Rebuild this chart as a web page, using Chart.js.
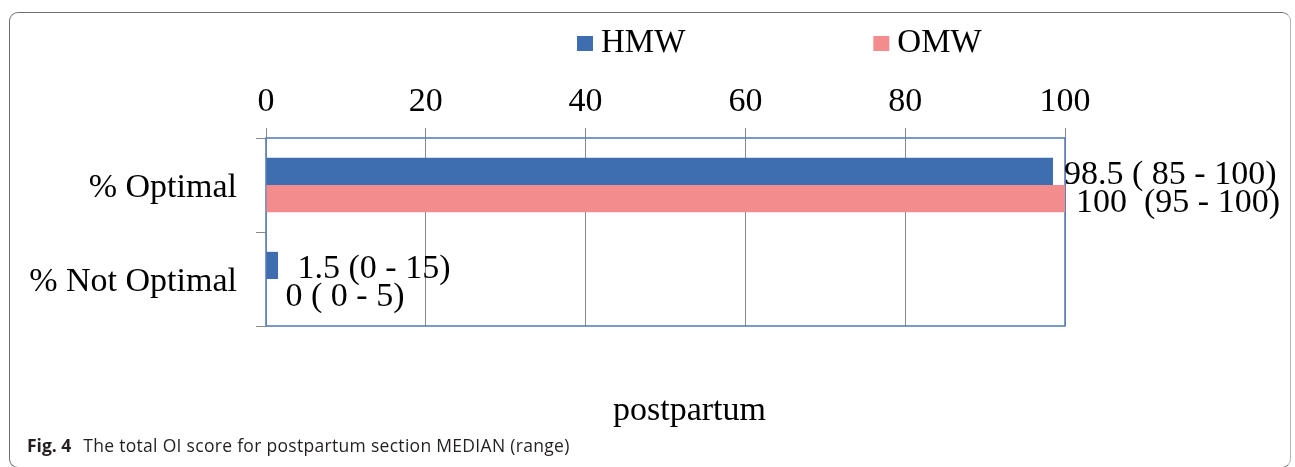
<!DOCTYPE html>
<html>
<head>
<meta charset="utf-8">
<script src="https://cdn.jsdelivr.net/npm/chart.js@4.4.0/dist/chart.umd.min.js"></script>
<style>
  html, body { margin: 0; padding: 0; background: #fff; overflow: hidden; }
  #frame {
    position: absolute; left: 9px; top: 12px; width: 1282px; height: 456px;
    border: 1.5px solid #6f6f6f; border-right-color: #b5b5b5; border-radius: 9px; box-sizing: border-box;
  }
  #wrap { position: absolute; left: 0; top: 0; width: 1295px; height: 467px; }
  #caption {
    position: absolute; left: 27px; top: 434px;
    font-family: "Open Sans", "Noto Sans", sans-serif; font-size: 17.5px; letter-spacing: 0.3px;
    line-height: 22px; color: #231f20; white-space: nowrap;
  }
  #caption b { font-weight: 700; margin-right: 7px; letter-spacing: 0; }
</style>
</head>
<body>
<div id="frame"></div>
<div id="wrap"><canvas id="c" width="1295" height="467"></canvas></div>
<div id="caption"><b>Fig. 4</b> The total OI score for postpartum section MEDIAN (range)</div>
<script>
// Categories, series and the median (range) text shown next to each bar
const categories = ['% Optimal', '% Not Optimal'];
const seriesNames = ['HMW', 'OMW'];
const hmwValues = [98.5, 1.5];
const omwValues = [100, 0];
const hmwLabels = ['98.5 ( 85 - 100)', ' 1.5 (0 - 15)'];
const omwLabels = ['100  (95 - 100)', ' 0 ( 0 - 5)'];
const xTicks = [0, 20, 40, 60, 80, 100];
const axisTitle = 'postpartum';

const SERIF = '"Liberation Serif", "Times New Roman", serif';
const colors = ['#3f6eb0', '#f38d8d'];
const valueLabels = [hmwLabels, omwLabels];

const extras = {
  id: 'extras',
  beforeDatasetsDraw(chart) {
    // outline of the plotting area
    const { ctx, chartArea: a } = chart;
    ctx.save();
    ctx.strokeStyle = '#5a7fbf';
    ctx.lineWidth = 1.6;
    ctx.strokeRect(a.left, a.top, a.right - a.left, a.bottom - a.top);
    ctx.restore();
  },
  afterDatasetsDraw(chart) {
    // median (range) text at the end of every bar
    const { ctx } = chart;
    ctx.save();
    ctx.font = '34px ' + SERIF;
    ctx.fillStyle = '#000';
    ctx.textBaseline = 'middle';
    ctx.textAlign = 'left';
    chart.data.datasets.forEach((ds, di) => {
      const meta = chart.getDatasetMeta(di);
      meta.data.forEach((bar, i) => {
        ctx.fillText(valueLabels[di][i], bar.x + 11, bar.y + 4);
      });
    });
    ctx.restore();
  },
  afterDraw(chart) {
    const { ctx, chartArea: a } = chart;
    ctx.save();
    // legend
    ctx.font = '33px ' + SERIF;
    ctx.textBaseline = 'middle';
    let x = 577;
    chart.data.datasets.forEach((ds) => {
      ctx.fillStyle = ds.backgroundColor;
      ctx.fillRect(x, 36, 16, 15);
      ctx.fillStyle = '#000';
      ctx.fillText(ds.label, x + 24, 43);
      x += 24 + ctx.measureText(ds.label).width + 188;
    });
    // axis title under the plot
    ctx.font = '34px ' + SERIF;
    ctx.textAlign = 'center';
    ctx.fillText(axisTitle, (a.left + a.right) / 2 + 24, a.bottom + 85);
    ctx.restore();
  }
};

new Chart(document.getElementById('c'), {
  type: 'bar',
  data: {
    labels: categories,
    datasets: [
      { label: seriesNames[0], data: hmwValues, backgroundColor: colors[0] },
      { label: seriesNames[1], data: omwValues, backgroundColor: colors[1] }
    ]
  },
  options: {
    indexAxis: 'y',
    responsive: false,
    animation: false,
    devicePixelRatio: 1,
    layout: { padding: { left: 0, right: 230, top: 0, bottom: 141 } },
    datasets: { bar: { categoryPercentage: 0.578, barPercentage: 1.0, borderWidth: 0 } },
    plugins: { legend: { display: false }, title: { display: false }, tooltip: { enabled: false } },
    scales: {
      x: {
        position: 'top',
        min: xTicks[0],
        max: xTicks[xTicks.length - 1],
        afterBuildTicks(scale) { scale.ticks = xTicks.map(v => ({ value: v })); },
        afterFit(scale) { scale.height = 138; },
        border: { display: false },
        grid: { color: '#8a8a8a', lineWidth: 1, tickLength: 10, drawTicks: true },
        ticks: { color: '#000', padding: 6, font: { family: SERIF, size: 34 } }
      },
      y: {
        afterFit(scale) { scale.width = 266; },
        border: { display: false },
        grid: { color: '#8a8a8a', drawOnChartArea: false, tickLength: 10, offset: true },
        ticks: { color: '#000', padding: 19, labelOffset: 3, font: { family: SERIF, size: 34 } }
      }
    }
  },
  plugins: [extras]
});
</script>
</body>
</html>
